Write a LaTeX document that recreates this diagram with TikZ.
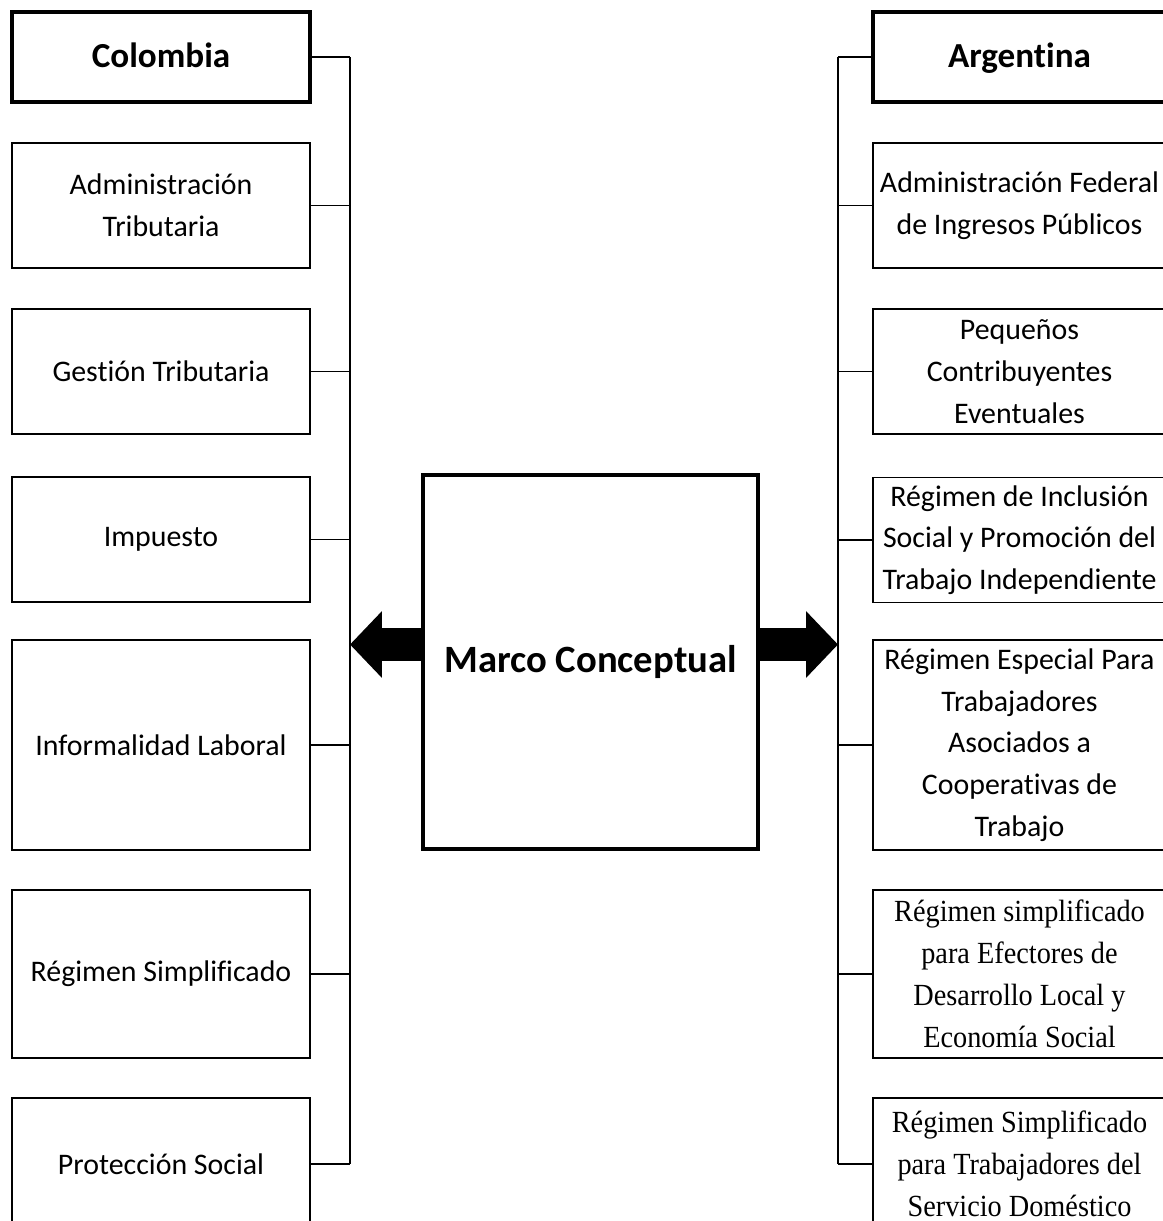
\documentclass[tikz,border=0pt]{standalone}
\usepackage{fontspec}
\setmainfont{Carlito}[Ligatures={NoCommon,NoContextual}, Contextuals=NoAlternate]
\newfontfamily\timesfont{Liberation Serif}[FakeStretch=0.92]
\usetikzlibrary{arrows.meta,positioning}
\tikzset{
  item/.style={draw, line width=0.9pt, inner sep=0pt, outer sep=0pt, minimum width=5.96cm, align=center, font=\fontsize{17}{23.8}\selectfont},
  itemR/.style={item, minimum width=5.86cm},
  serifR/.style={itemR, font=\timesfont\fontsize{17.5}{23.8}\selectfont},
  head/.style={item, line width=1.8pt, minimum height=1.8cm, text height=0.5cm, text depth=0.1cm, font=\fontsize{20}{24}\selectfont\bfseries},
  link/.style={line width=0.9pt},
  bigarrow/.style={line width=0.66cm, -{Triangle[length=0.64cm, width=1.3cm]}}
}
\begin{document}
\begin{tikzpicture}[x=0.02cm, y=-0.02cm]
\useasboundingbox (0,0) rectangle (1163,1221);
\clip (0,0) rectangle (1163,1221);
\coordinate (spineL) at (350,0);
\coordinate (spineR) at (838,0);
% Colombia
\node[head] (col) at (161,57) {Colombia};
\node[item, minimum height=2.5cm] (admtrib) at (161,205.5) {Administración\\Tributaria};
\node[item, minimum height=2.5cm] (gestion) at (161,371.5) {Gestión Tributaria};
\node[item, minimum height=2.5cm] (impuesto) at (161,539.5) {Impuesto};
\node[item, minimum height=4.2cm] (informal) at (161,745) {Informalidad Laboral};
\node[item, minimum height=3.36cm] (regsimp) at (161,974) {Régimen Simplificado};
\node[item, minimum height=2.64cm] (proteccion) at (161,1164) {Protección Social};
% Argentina
\node[head, minimum width=5.86cm] (arg) at (1019.5,57) {Argentina};
\node[itemR, minimum height=2.5cm] (afip) at (1019.5,205.5) {Administración Federal\\de Ingresos Públicos};
\node[itemR, minimum height=2.5cm] (pequenos) at (1019.5,371.5) {Pequeños\\Contribuyentes\\Eventuales};
\node[itemR, minimum height=2.5cm] (inclusion) at (1019.5,540) {Régimen de Inclusión\\Social y Promoción del\\Trabajo Independiente};
\node[itemR, minimum height=4.2cm] (especial) at (1019.5,745) {Régimen Especial Para\\Trabajadores\\Asociados a\\Cooperativas de\\Trabajo};
\node[serifR, minimum height=3.36cm] (efectores) at (1019.5,974) {Régimen simplificado\\para Efectores de\\Desarrollo Local y\\Economía Social};
\node[serifR, minimum height=2.64cm] (domestico) at (1019.5,1164) {Régimen Simplificado\\para Trabajadores del\\Servicio Doméstico};
% centro
\node[item, line width=1.8pt, minimum width=6.7cm, minimum height=7.48cm, font=\fontsize{22}{26}\selectfont\bfseries] (marco) at (590.5,662) {Marco Conceptual};
% conectores
\foreach \n in {col,admtrib,gestion,impuesto,informal,regsimp,proteccion}
  \draw[link] (\n.east) -- (\n.east -| spineL);
\foreach \n in {arg,afip,pequenos,inclusion,especial,efectores,domestico}
  \draw[link] (\n.west) -- (\n.west -| spineR);
\draw[link] (col.east -| spineL) -- (proteccion.east -| spineL);
\draw[link] (arg.west -| spineR) -- (domestico.west -| spineR);
\draw[bigarrow] ([yshift=0.35cm]marco.west) -- ([yshift=0.35cm]marco.west -| spineL);
\draw[bigarrow] ([yshift=0.35cm]marco.east) -- ([yshift=0.35cm]marco.east -| spineR);
\end{tikzpicture}
\end{document}
